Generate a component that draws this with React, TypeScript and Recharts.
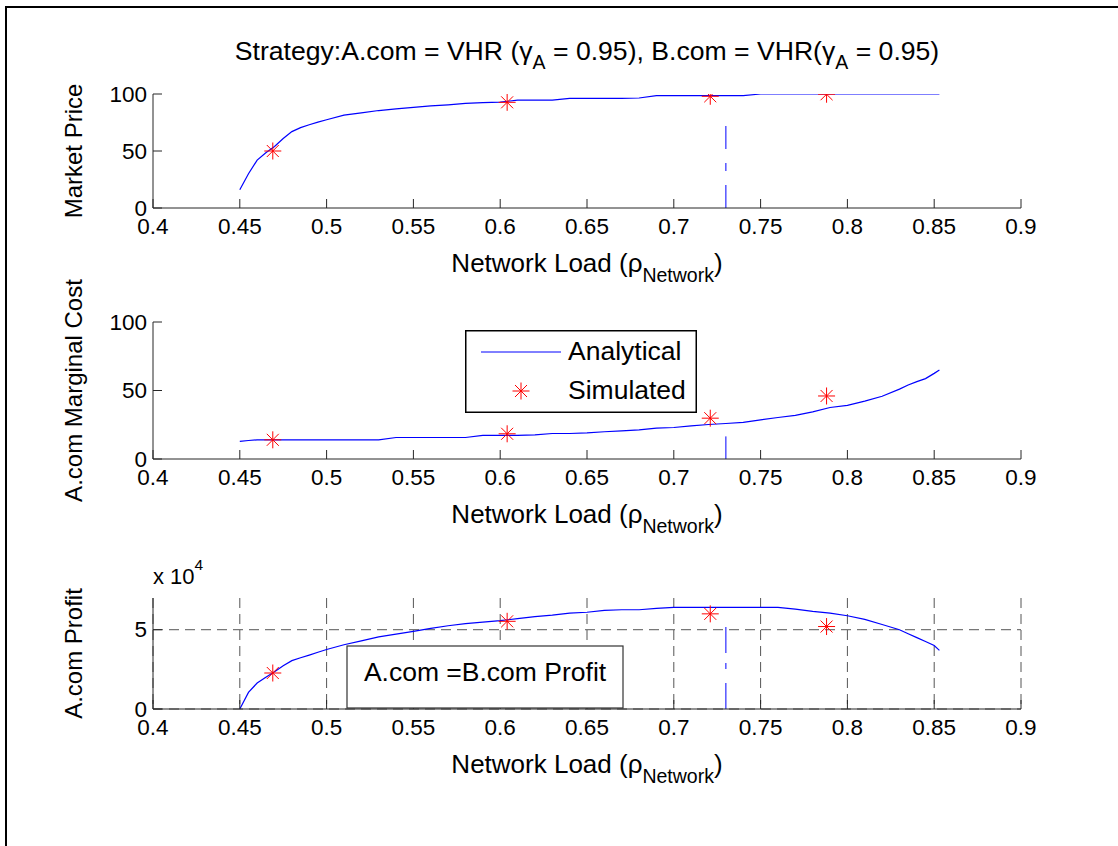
import { ComposedChart, Line, Scatter, XAxis, YAxis, CartesianGrid, ReferenceLine, Legend } from 'recharts';

// network load grid of the analytical curves
const loadGrid = [
  0.45, 0.455, 0.46, 0.465, 0.47, 0.475, 0.48, 0.485, 0.49, 0.495, 0.5, 0.51, 0.52, 0.53, 0.54, 0.55, 0.56, 0.57,
  0.58, 0.59, 0.6, 0.61, 0.62, 0.63, 0.64, 0.65, 0.66, 0.67, 0.68, 0.69, 0.7, 0.71, 0.72, 0.73, 0.74,
  0.75, 0.76, 0.77, 0.78, 0.79, 0.8, 0.81, 0.82, 0.83, 0.835, 0.84, 0.845, 0.85, 0.853,
];
const priceCurve = [
  16, 30, 42, 48.5, 54, 61, 67, 70.5, 73, 75.3, 77.4, 81.5, 83.5, 85.5, 87, 88.3, 89.5, 90.5,
  91.8, 92.5, 92.8, 94.7, 94.7, 94.7, 96.2, 96.2, 96.2, 96.2, 96.5, 98.5, 98.5, 98.5, 98.5, 98.5, 98.5,
  100, 100, 100, 100, 100, 100, 100, 100, 100, 100, 100, 100, 100, 100,
];
const costCurve = [
  12.8, 13.5, 14, 14, 14, 14, 14, 14, 14, 14, 14, 14, 14, 14, 15.7, 15.7, 15.7, 15.7,
  15.7, 17.2, 17.2, 17.2, 17.6, 18.6, 18.6, 19, 19.9, 20.5, 21.3, 22.5, 23, 24.2, 25.2, 25.9, 26.8,
  28.6, 30.3, 31.8, 34.4, 37.6, 39.2, 42.2, 45.8, 51, 54, 56.5, 58.7, 62.5, 64.9,
];
const profitCurve = [
  0, 10500, 16400, 20000, 23500, 27300, 30500, 32300, 34000, 35800, 37500, 40500, 43000, 45500, 47200, 49000, 50800, 52500,
  53800, 54800, 55700, 57000, 58200, 59200, 60500, 61000, 62200, 62600, 62600, 63500, 64100, 64100, 64100, 64100, 64100,
  64100, 64100, 63000, 61600, 60500, 58800, 56500, 53300, 50000, 47500, 45000, 42600, 40000, 37000,
];

// simulation runs
const simLoad = [0.469, 0.604, 0.721, 0.788];
const priceSim = [50, 92.7, 98, 99.8];
const costSim = [14, 18.4, 29.8, 46];
const profitSim = [22700, 55300, 60000, 52000];

const loadTicks = [0.4, 0.45, 0.5, 0.55, 0.6, 0.65, 0.7, 0.75, 0.8, 0.85, 0.9];
const priceTicks = [0, 50, 100];
const costTicks = [0, 50, 100];
const profitTicks = [0, 50000];

// equilibrium load marker (dash-dot line) and how high it reaches in each panel
const equilibriumLoad = 0.73;
const markerPrice = 74;
const markerCost = 16.5;
const markerProfit = 52700;

const analytic = loadGrid.map((load, i) => ({
  load,
  price: priceCurve[i],
  cost: costCurve[i],
  profit: profitCurve[i],
}));
const simulated = simLoad.map((load, i) => ({
  load,
  price: priceSim[i],
  cost: costSim[i],
  profit: profitSim[i],
}));

const FONT = '"Liberation Sans", Arial, Helvetica, sans-serif';
const AXIS = '#262626';
const BLUE = '#0000ff';
const RED = '#ff0000';
const W = 1118;
const MARGIN_RIGHT = W - 1021;
const Y_AXIS_W = 153;
const TICK_FONT = 22.5;

function Txt({ x, y, size, anchor = 'middle', rotate = 0, children }: any) {
  return (
    <text
      transform={`translate(${x},${y}) rotate(${rotate})`}
      fontSize={size}
      fontFamily={FONT}
      textAnchor={anchor}
      fill="#000"
    >
      {children}
    </text>
  );
}

const Star = ({ cx, cy }: any) => (
  <g stroke={RED} strokeWidth={1}>
    <line x1={cx - 8.5} x2={cx + 8.5} y1={cy} y2={cy} />
    <line x1={cx} x2={cx} y1={cy - 8.5} y2={cy + 8.5} />
    <line x1={cx - 6} x2={cx + 6} y1={cy - 6} y2={cy + 6} />
    <line x1={cx - 6} x2={cx + 6} y1={cy + 6} y2={cy - 6} />
  </g>
);

// matlab style ticks: pointing into the axes
const XTick = ({ x, y, payload }: any) => (
  <g>
    <line x1={x} x2={x} y1={y} y2={y - 9} stroke={AXIS} />
    <Txt x={x} y={y + 26} size={TICK_FONT}>{String(payload.value)}</Txt>
  </g>
);

const makeYTick = (fmt: (v: number) => string) => ({ x, y, payload }: any) => (
  <g>
    <line x1={x} x2={x + 9} y1={y} y2={y} stroke={AXIS} />
    <Txt x={x - 6} y={y + 7.5} size={TICK_FONT} anchor="end">{fmt(payload.value)}</Txt>
  </g>
);

const XLabel = ({ viewBox }: any) => (
  <Txt x={viewBox.x + viewBox.width / 2} y={viewBox.y + 63.5} size={26}>
    Network Load (ρ<tspan fontSize={19.5} dy={10}>Network</tspan>
    <tspan dy={-10}>)</tspan>
  </Txt>
);

const yLabel = (text: string) => ({ viewBox }: any) => (
  <Txt x={82} y={viewBox.y + viewBox.height / 2} size={24} rotate={-90}>{text}</Txt>
);

const LegendBox = () => (
  <svg width={232} height={83} style={{ display: 'block' }}>
    <rect x={0.75} y={0.75} width={230.5} height={81.5} fill="#fff" stroke="#000" strokeWidth={1.5} />
    <line x1={16} x2={96} y1={22} y2={22} stroke={BLUE} />
    <Star cx={56} cy={61} />
    <Txt x={103} y={29.5} size={26.5} anchor="start">Analytical</Txt>
    <Txt x={103} y={68.5} size={26.5} anchor="start">Simulated</Txt>
  </svg>
);

function Panel({ top, height, plotTop, plotBottom, field, ticks, domain, fmt, label, markerTop, grid, legend }: any) {
  return (
    <div style={{ position: 'absolute', left: 0, top }}>
      <ComposedChart
        width={W}
        height={height}
        margin={{ top: plotTop - top, right: MARGIN_RIGHT, bottom: height - (plotBottom - top) - 60, left: 0 }}
      >
        {grid && (
          <CartesianGrid
            stroke="#555"
            strokeDasharray="10 6"
            horizontalValues={profitTicks}
            verticalValues={loadTicks}
          />
        )}
        <XAxis
          dataKey="load"
          type="number"
          domain={[0.4, 0.9]}
          ticks={loadTicks}
          interval={0}
          height={60}
          tickSize={0}
          tickMargin={0}
          tickLine={false}
          tick={XTick}
          axisLine={{ stroke: AXIS }}
          label={XLabel}
          allowDataOverflow
        />
        <YAxis
          type="number"
          domain={domain}
          ticks={ticks}
          interval={0}
          width={Y_AXIS_W}
          tickSize={0}
          tickMargin={0}
          tickLine={false}
          tick={makeYTick(fmt)}
          axisLine={{ stroke: AXIS }}
          label={yLabel(label)}
          allowDataOverflow
        />
        <ReferenceLine
          segment={[
            { x: equilibriumLoad, y: 0 },
            { x: equilibriumLoad, y: markerTop },
          ]}
          stroke={BLUE}
          strokeDasharray={grid ? '26 14 6 10' : '23 14 8 14'}
        />
        <Line
          name="Analytical"
          data={analytic}
          dataKey={field}
          stroke={BLUE}
          strokeWidth={1.2}
          dot={false}
          isAnimationActive={false}
        />
        <Scatter
          name="Simulated"
          data={simulated}
          dataKey={field}
          shape={Star}
          isAnimationActive={false}
        />
        {legend && (
          <Legend
            layout="horizontal"
            verticalAlign="middle"
            align="center"
            content={LegendBox}
            wrapperStyle={{ left: 465, top: 330 - top, width: 232, height: 83, right: 'auto', bottom: 'auto' }}
          />
        )}
      </ComposedChart>
    </div>
  );
}

export default function App() {
  return (
    <div
      style={{
        position: 'absolute',
        left: 0,
        top: 0,
        width: W,
        height: 846,
        background: '#fff',
        overflow: 'hidden',
        fontFamily: FONT,
      }}
    >
      <style>{'.recharts-surface { overflow: visible; }'}</style>
      <Panel
        top={0}
        height={300}
        plotTop={94}
        plotBottom={208}
        field="price"
        ticks={priceTicks}
        domain={[0, 100]}
        fmt={(v: number) => String(v)}
        label="Market Price"
        markerTop={markerPrice}
      />
      <Panel
        top={300}
        height={260}
        plotTop={322}
        plotBottom={459}
        field="cost"
        ticks={costTicks}
        domain={[0, 100]}
        fmt={(v: number) => String(v)}
        label="A.com Marginal Cost"
        markerTop={markerCost}
        legend
      />
      <Panel
        top={560}
        height={286}
        plotTop={598}
        plotBottom={709}
        field="profit"
        ticks={profitTicks}
        domain={[0, 70000]}
        fmt={(v: number) => String(v / 10000)}
        label="A.com Profit"
        markerTop={markerProfit}
        grid
      />
      <svg
        width={W}
        height={846}
        style={{ position: 'absolute', left: 0, top: 0, pointerEvents: 'none' }}
      >
        <line x1={6} x2={6} y1={6} y2={846} stroke="#000" strokeWidth={2} />
        <line x1={5} x2={W} y1={7} y2={7} stroke="#000" strokeWidth={2} />
        <Txt x={587} y={60} size={26.6}>
          Strategy:A.com = VHR (γ<tspan fontSize={19.5} dy={9}>A</tspan>
          <tspan dy={-9}> = 0.95), B.com = VHR(γ</tspan>
          <tspan fontSize={19.5} dy={9}>A</tspan>
          <tspan dy={-9}> = 0.95)</tspan>
        </Txt>
        <Txt x={153} y={584} size={22} anchor="start">
          x 10<tspan fontSize={15.5} dy={-14}>4</tspan>
        </Txt>
        <rect x={347} y={646} width={276} height={62} fill="#fff" stroke="#333" strokeWidth={1.2} />
        <Txt x={485} y={681} size={26.5}>A.com =B.com Profit</Txt>
      </svg>
    </div>
  );
}
